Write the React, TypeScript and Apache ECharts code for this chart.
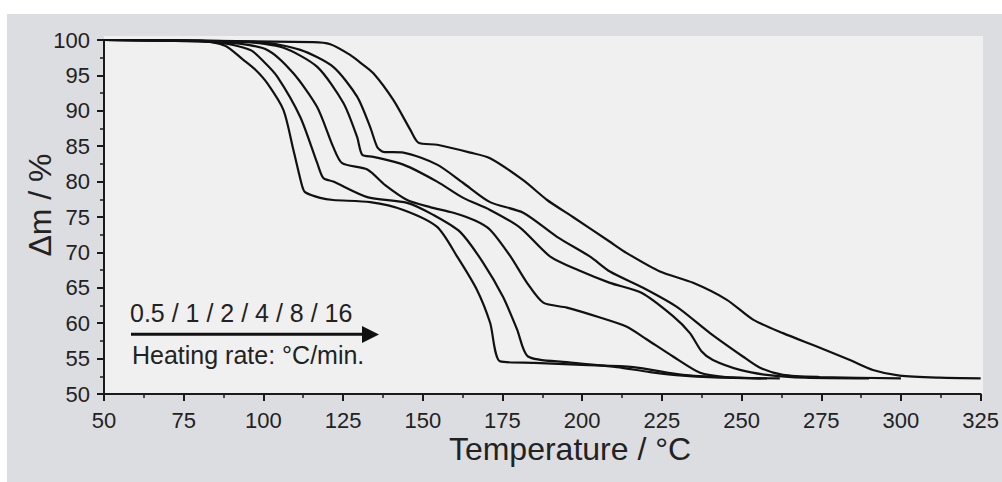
import React, { useEffect, useRef } from "react";
import * as echarts from "echarts";

// Heating rates (°C/min)
const rates = ["0.5", "1", "2", "4", "8", "16"];

// Temperature (°C) and mass (Δm / %)
const t05 = [50, 80, 88, 93.7, 97.5, 101.2, 106.3, 109.4, 112.2, 113.1, 117.8, 121.9, 133.5, 143.9, 154.5, 160.8, 167.0, 171.1, 174.3, 185, 200, 216, 231.6, 247.3, 256];
const m05 = [100, 99.9, 99.2, 97.2, 95.8, 93.9, 90.1, 84.5, 79.3, 78.5, 77.7, 77.4, 77.1, 76.0, 73.6, 69.4, 64.7, 60.1, 54.6, 54.4, 54.1, 53.8, 52.7, 52.3, 52.2];

const t1 = [50, 84.9, 95.9, 100, 104.4, 111.6, 116.9, 118.8, 121.9, 132.6, 145.1, 153.3, 161.7, 169.0, 175.2, 179.6, 183.0, 195.2, 210.9, 221.3, 231.6, 245, 262];
const m1 = [100, 99.7, 98.6, 97.0, 94.8, 89.1, 82.6, 80.5, 80.0, 77.8, 77.0, 75.3, 72.9, 68.5, 63.7, 59.1, 55.3, 54.5, 53.8, 53.1, 52.6, 52.3, 52.2];

const t2 = [50, 89.7, 101.2, 109.4, 116.9, 121.9, 124.7, 132.6, 138.2, 145.1, 152.3, 159.6, 166.4, 171.1, 177.4, 182.7, 187.8, 195.2, 205.6, 214, 220.3, 228.5, 237, 245, 258];
const m2 = [100, 99.6, 98.6, 95.3, 90.5, 84.9, 82.6, 81.7, 79.5, 77.4, 76.4, 75.6, 74.5, 73.2, 69.5, 65.7, 62.9, 62.2, 60.8, 59.5, 57.7, 55.3, 53.0, 52.4, 52.2];

const t4 = [50, 94.3, 106.3, 116.9, 125.1, 129.4, 131.0, 134.5, 143.9, 154.5, 162.7, 171.1, 180.5, 190.0, 198.7, 208.7, 218.6, 228.5, 233.8, 237.5, 241, 249.5, 257.9, 270, 290];
const m4 = [100, 99.7, 98.9, 96.2, 91.1, 86.3, 83.8, 83.5, 82.4, 80.0, 77.7, 76.0, 73.5, 69.4, 67.5, 65.7, 64.3, 61.0, 58.6, 56.0, 54.8, 53.4, 52.7, 52.3, 52.2];

const t8 = [50, 99, 111.6, 121.9, 129.4, 133.5, 135.7, 137.6, 143.9, 154.5, 162.7, 171.1, 181.5, 192.1, 202.5, 208.7, 219.1, 229.7, 240.1, 250.4, 255.8, 263.0, 274.5, 300];
const m8 = [100, 99.7, 98.6, 96.2, 92.0, 87.7, 84.9, 84.2, 84.1, 82.4, 79.8, 77.1, 75.6, 72.2, 69.4, 67.3, 65.0, 62.3, 58.6, 55.3, 53.7, 52.7, 52.4, 52.2];

const t16 = [50, 115.6, 121, 127.2, 130.4, 134.5, 140.8, 146.1, 148.6, 154.5, 164.9, 171.1, 181.5, 189.0, 197.1, 208.7, 214.0, 224.4, 234.8, 245.4, 253.6, 263.0, 273.6, 284.0, 291.2, 299.6, 312.1, 325];
const m16 = [100, 99.7, 99.4, 97.9, 96.8, 95.3, 91.5, 87.3, 85.5, 85.2, 84.1, 83.3, 80.2, 77.4, 75.0, 71.5, 69.9, 67.3, 65.7, 63.3, 60.5, 58.6, 56.7, 54.8, 53.4, 52.6, 52.3, 52.2];

const temps = [t05, t1, t2, t4, t8, t16];
const masses = [m05, m1, m2, m4, m8, m16];

const xTicks = { min: 50, max: 325, interval: 25 };
const yTicks = { min: 50, max: 100, interval: 5 };

const FONT = "'Liberation Sans', Arial, Helvetica, sans-serif";
const INK = "#1a1a1a";

export default function App() {
  const ref = useRef<HTMLDivElement>(null);

  useEffect(() => {
    if (!ref.current) return;
    const chart = echarts.init(ref.current, undefined, { renderer: "svg" });

    const series = rates.map((r, i) => ({
      name: r + " °C/min",
      type: "line",
      data: temps[i].map((t, k) => [t, masses[i][k]]),
      showSymbol: false,
      smooth: 0.25,
      lineStyle: { color: "#111", width: 2.2 },
      z: 3,
    }));

    const axisCommon = {
      type: "value",
      axisLine: { show: true, onZero: false, lineStyle: { color: INK, width: 2 } },
      axisTick: { show: true, inside: false, length: 7, lineStyle: { color: INK, width: 2 } },
      minorTick: { show: true, splitNumber: 2, length: 4, lineStyle: { color: INK, width: 1.5 } },
      splitLine: { show: false },
      minorSplitLine: { show: false },
      axisLabel: { fontSize: 22, lineHeight: 17, color: "#222", fontFamily: FONT },
    };

    chart.setOption({
      animation: false,
      backgroundColor: "#dcdde0",
      grid: { left: 97, right: 21, top: 26, bottom: 88 },
      xAxis: {
        ...axisCommon,
        min: xTicks.min,
        max: xTicks.max,
        interval: xTicks.interval,
        axisLabel: { ...axisCommon.axisLabel, margin: 18 },
      },
      yAxis: {
        ...axisCommon,
        min: yTicks.min,
        max: yTicks.max,
        interval: yTicks.interval,
        axisLabel: { ...axisCommon.axisLabel, margin: 14 },
      },
      series,
      graphic: [
        {
          type: "rect",
          z: -10,
          silent: true,
          shape: { x: 97, y: 22, width: 879, height: 358 },
          style: { fill: "#f0f0f0" },
        },
        {
          type: "text",
          x: 563,
          y: 435,
          z: 10,
          style: {
            text: "Temperature / °C",
            fontSize: 32,
            lineHeight: 24,
            fontFamily: FONT,
            fill: "#222",
            align: "center",
            verticalAlign: "middle",
          },
        },
        {
          type: "text",
          x: 33,
          y: 191,
          rotation: Math.PI / 2,
          z: 10,
          style: {
            text: "Δm / %",
            fontSize: 32,
            fontFamily: FONT,
            fill: "#222",
            align: "center",
            verticalAlign: "middle",
          },
        },
        {
          type: "text",
          x: 123,
          y: 299,
          z: 10,
          style: {
            text: rates.join(" / "),
            fontSize: 25,
            fontFamily: FONT,
            fill: "#222",
            align: "left",
            verticalAlign: "middle",
          },
        },
        {
          type: "line",
          z: 10,
          shape: { x1: 124, y1: 320.3, x2: 357, y2: 320.3 },
          style: { stroke: "#111", lineWidth: 3 },
        },
        {
          type: "polygon",
          z: 10,
          shape: { points: [[355, 312], [372, 320.5], [355, 329]] },
          style: { fill: "#111" },
        },
        {
          type: "text",
          x: 125,
          y: 341,
          z: 10,
          style: {
            text: "Heating rate: °C/min.",
            fontSize: 25,
            fontFamily: FONT,
            fill: "#222",
            align: "left",
            verticalAlign: "middle",
          },
        },
      ],
    });

    return () => chart.dispose();
  }, []);

  return (
    <div style={{ position: "fixed", left: 0, top: 0, width: 1002, height: 482, background: "#fff" }}>
      <div
        ref={ref}
        style={{ position: "absolute", left: 7, top: 14, width: 995, height: 468 }}
      />
    </div>
  );
}
